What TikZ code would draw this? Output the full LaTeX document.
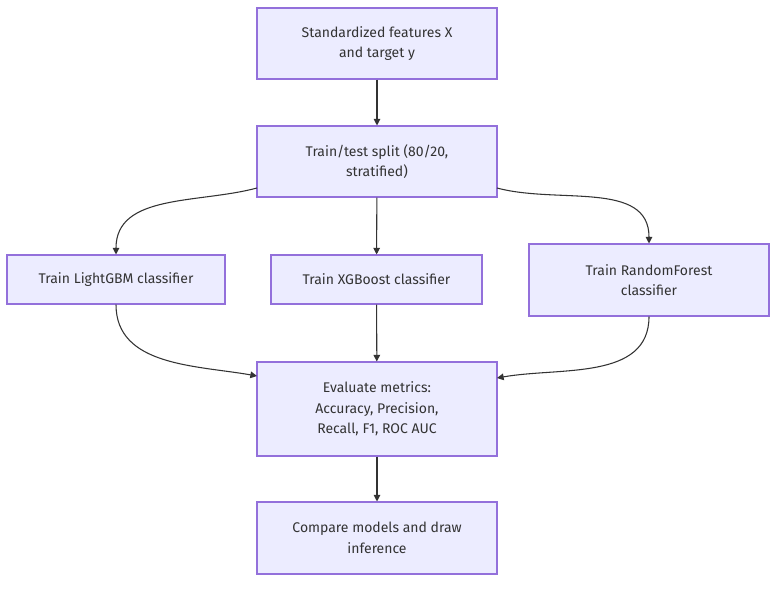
\documentclass[tikz,border=0pt]{standalone}
\usepackage{fontspec}
\setmainfont{Fira Sans}
\usetikzlibrary{arrows.meta}
\definecolor{boxfill}{HTML}{ECECFF}
\definecolor{boxline}{HTML}{9370DB}
\definecolor{edge}{HTML}{333333}
\tikzset{
  stepbox/.style={draw=boxline, fill=boxfill, line width=0.8pt, align=center,
    font=\fontsize{10.5}{15.5}\selectfont, text=edge, inner sep=0pt},
  flow/.style={draw=edge, line width=0.8pt, -{Triangle[length=5pt,width=5pt]}}
}
\begin{document}
\begin{tikzpicture}[x=0.75pt,y=-0.75pt]
  \useasboundingbox (0,0) rectangle (784,589);

  \node[stepbox, minimum width=240*0.75pt, minimum height=71*0.75pt] (feat) at (377,43.5)
    {Standardized features X\\and target y};
  \node[stepbox, minimum width=240*0.75pt, minimum height=71*0.75pt] (split) at (377,161.5)
    {Train/test split (80/20,\\stratified)};
  \node[stepbox, minimum width=218*0.75pt, minimum height=49*0.75pt] (lgbm) at (116,279.5)
    {Train LightGBM classifier};
  \node[stepbox, minimum width=211*0.75pt, minimum height=49*0.75pt] (xgb) at (376.5,279.5)
    {Train XGBoost classifier};
  \node[stepbox, minimum width=240*0.75pt, minimum height=72*0.75pt] (rf) at (649,280)
    {Train RandomForest\\classifier};
  \node[stepbox, minimum width=240*0.75pt, minimum height=94*0.75pt] (eval) at (377,409)
    {Evaluate metrics:\\Accuracy, Precision,\\Recall, F1, ROC AUC};
  \node[stepbox, minimum width=240*0.75pt, minimum height=72*0.75pt] (comp) at (377,538)
    {Compare models and draw\\inference};

  \coordinate (splitL) at (257,188);
  \coordinate (splitR) at (497,188);
  \coordinate (evalL) at (257,376);
  \coordinate (evalR) at (497,378);

  \draw[flow] (feat) -- (split);
  \draw[flow] (split) -- (xgb);
  \draw[flow] (splitL) to[out=195,in=90] (lgbm.north);
  \draw[flow] (splitR) to[out=-15,in=90] (rf.north);
  \draw[flow] (lgbm.south) to[out=-90,in=170] (evalL);
  \draw[flow] (xgb) -- (eval);
  \draw[flow] (rf.south) to[out=-90,in=10] (evalR);
  \draw[flow] (eval) -- (comp);
\end{tikzpicture}
\end{document}
